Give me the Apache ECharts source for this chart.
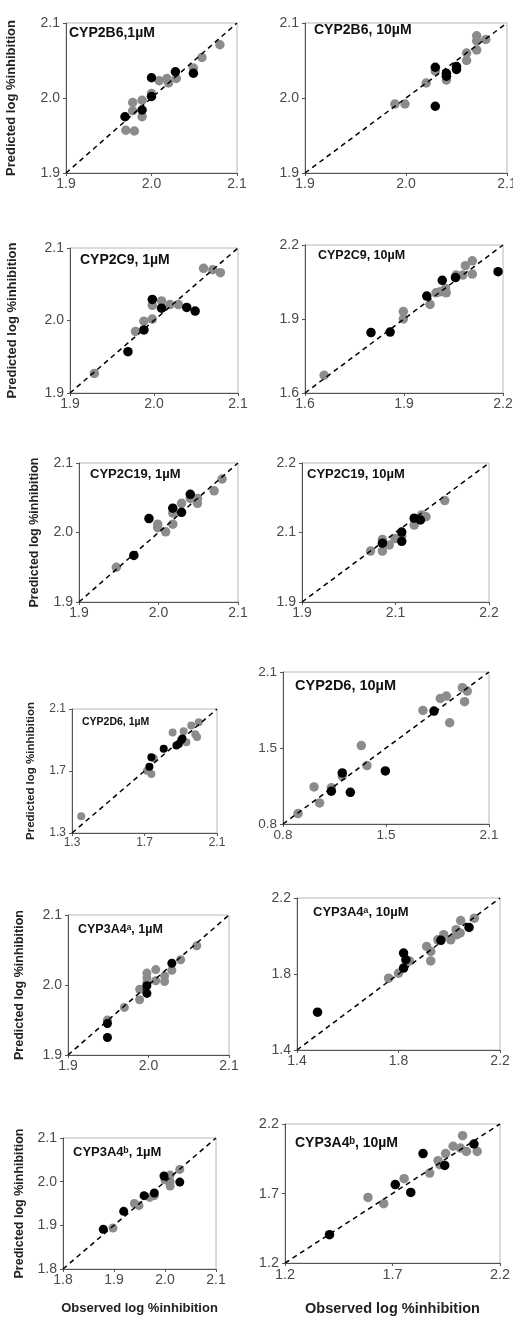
<!DOCTYPE html>
<html>
<head>
<meta charset="utf-8">
<script src="https://cdn.jsdelivr.net/npm/echarts@6/dist/echarts.min.js"></script>
<style>
  html, body { margin: 0; padding: 0; background: #fff; }
  #chart { width: 513px; height: 1317px; }
</style>
</head>
<body>
<div id="chart"></div>
<script>
  // tick values per panel (first/last = axis range); labels only where they differ from the value
  const p1Ticks = [1.9, 2.0, 2.1];
  const p2Ticks = [1.9, 2.0, 2.1];
  const p3Ticks = [1.9, 2.0, 2.1];
  const p4Ticks = [1.6, 1.9, 2.2];
  const p5Ticks = [1.9, 2.0, 2.1];
  const p6Ticks = [1.9, 2.05, 2.2];
  const p6Labels = ['1.9', '2.1', '2.2'];
  const p7Ticks = [1.3, 1.7, 2.1];
  const p8Ticks = [0.8, 1.45, 2.1];
  const p8Labels = ['0.8', '1.5', '2.1'];
  const p9Ticks = [1.9, 2.0, 2.1];
  const p10Ticks = [1.4, 1.8, 2.2];
  const p11Ticks = [1.8, 1.9, 2.0, 2.1];
  const p12Ticks = [1.2, 1.7, 2.2];

  // [observed, predicted]
  const p1Gray = [[1.97,1.957],[1.98,1.956],[1.978,1.994],[1.978,1.983],[1.989,1.997],[1.989,1.975],[2.0,2.006],[2.009,2.023],[2.018,2.026],[2.02,2.02],[2.029,2.026],[2.049,2.04],[2.059,2.054],[2.08,2.071]];
  const p1Black = [[1.969,1.975],[1.989,1.984],[2.0,2.027],[2.0,2.002],[2.028,2.035],[2.049,2.033]];
  const p2Gray = [[1.989,1.992],[1.999,1.992],[2.02,2.02],[2.029,2.036],[2.04,2.024],[2.04,2.029],[2.05,2.04],[2.06,2.05],[2.06,2.06],[2.07,2.064],[2.07,2.076],[2.07,2.083],[2.079,2.078]];
  const p2Black = [[2.029,2.041],[2.029,1.989],[2.04,2.033],[2.04,2.029],[2.05,2.042],[2.05,2.038]];
  const p3Gray = [[1.929,1.927],[1.978,1.985],[1.988,1.999],[1.998,2.002],[1.998,2.021],[2.009,2.027],[2.019,2.022],[2.029,2.022],[2.059,2.072],[2.07,2.07],[2.079,2.066]];
  const p3Black = [[1.969,1.957],[1.988,1.987],[1.998,2.029],[2.009,2.017],[2.039,2.018],[2.049,2.013]];
  const p4Gray = [[1.658,1.672],[1.898,1.93],[1.898,1.90],[1.979,1.959],[1.997,2.006],[2.009,2.01],[2.026,2.024],[2.028,2.006],[2.058,2.078],[2.078,2.078],[2.086,2.116],[2.107,2.136],[2.107,2.082]];
  const p4Black = [[1.80,1.845],[1.858,1.847],[1.969,1.993],[2.016,2.057],[2.056,2.068],[2.185,2.092]];
  const p5Gray = [[1.947,1.95],[1.999,2.012],[1.999,2.007],[2.009,2.001],[2.018,2.012],[2.018,2.028],[2.029,2.042],[2.04,2.049],[2.049,2.049],[2.049,2.042],[2.07,2.06],[2.08,2.077]];
  const p5Black = [[1.969,1.967],[1.988,2.02],[2.018,2.035],[2.029,2.029],[2.04,2.055]];
  const p6Gray = [[2.01,2.01],[2.029,2.035],[2.029,2.01],[2.04,2.023],[2.049,2.037],[2.06,2.042],[2.08,2.066],[2.092,2.088],[2.099,2.084],[2.129,2.119]];
  const p6Black = [[2.029,2.027],[2.06,2.051],[2.06,2.031],[2.08,2.081],[2.09,2.077]];
  const p7Gray = [[1.351,1.408],[1.714,1.702],[1.738,1.68],[1.751,1.783],[1.855,1.948],[1.916,1.957],[1.931,1.886],[1.958,1.994],[1.98,1.937],[1.99,1.92],[1.999,2.015]];
  const p7Black = [[1.727,1.728],[1.738,1.789],[1.806,1.843],[1.876,1.865],[1.889,1.875],[1.903,1.9],[1.909,1.91]];
  const p8Gray = [[0.895,0.889],[0.996,1.117],[1.031,0.98],[1.105,1.109],[1.174,1.209],[1.294,1.471],[1.33,1.3],[1.683,1.771],[1.793,1.874],[1.831,1.894],[1.852,1.666],[1.932,1.966],[1.963,1.937],[1.946,1.846]];
  const p8Black = [[1.105,1.08],[1.174,1.237],[1.225,1.071],[1.446,1.254],[1.753,1.766]];
  const p9Gray = [[1.949,1.95],[1.97,1.968],[1.989,1.994],[1.989,1.979],[1.998,2.003],[1.998,2.01],[1.998,2.017],[2.009,2.022],[2.009,2.006],[2.02,2.013],[2.02,2.005],[2.029,2.021],[2.04,2.036],[2.06,2.056]];
  const p9Black = [[1.949,1.945],[1.949,1.925],[1.998,1.999],[1.998,1.988],[2.029,2.031]];
  const p10Gray = [[1.761,1.778],[1.8,1.804],[1.843,1.869],[1.911,1.945],[1.927,1.869],[1.927,1.919],[1.955,1.98],[1.978,2.007],[2.006,1.98],[2.027,2.033],[2.03,2.007],[2.043,2.016],[2.045,2.081],[2.099,2.094]];
  const p10Black = [[1.481,1.599],[1.82,1.831],[1.82,1.91],[1.829,1.875],[1.967,1.977],[2.078,2.045]];
  const p11Gray = [[1.898,1.894],[1.94,1.95],[1.949,1.945],[1.97,1.964],[1.979,1.968],[2.0,2.004],[2.01,2.015],[2.01,2.0],[2.01,1.99],[2.029,2.028]];
  const p11Black = [[1.879,1.891],[1.919,1.932],[1.959,1.968],[1.979,1.974],[1.998,2.013],[2.029,1.999]];
  const p12Gray = [[1.586,1.672],[1.659,1.627],[1.754,1.807],[1.873,1.847],[1.912,1.936],[1.92,1.907],[1.947,1.987],[1.982,2.04],[2.016,2.027],[2.026,2.116],[2.044,2.003],[2.094,2.003]];
  const p12Black = [[1.407,1.404],[1.713,1.764],[1.785,1.708],[1.842,1.987],[1.943,1.902],[2.079,2.056]];

  const yTitle = 'Predicted log %inhibition';
  const xTitle = 'Observed log %inhibition';

  const panels = [
    { name: 'CYP2B6,1\u00b5M', ticks: p1Ticks, gray: p1Gray, black: p1Black },
    { name: 'CYP2B6, 10\u00b5M', ticks: p2Ticks, gray: p2Gray, black: p2Black },
    { name: 'CYP2C9, 1\u00b5M', ticks: p3Ticks, gray: p3Gray, black: p3Black },
    { name: 'CYP2C9, 10\u00b5M', ticks: p4Ticks, gray: p4Gray, black: p4Black },
    { name: 'CYP2C19, 1\u00b5M', ticks: p5Ticks, gray: p5Gray, black: p5Black },
    { name: 'CYP2C19, 10\u00b5M', ticks: p6Ticks, labels: p6Labels, gray: p6Gray, black: p6Black },
    { name: 'CYP2D6, 1\u00b5M', ticks: p7Ticks, gray: p7Gray, black: p7Black },
    { name: 'CYP2D6, 10\u00b5M', ticks: p8Ticks, labels: p8Labels, gray: p8Gray, black: p8Black },
    { name: 'CYP3A4\u1d43, 1\u00b5M', ticks: p9Ticks, gray: p9Gray, black: p9Black },
    { name: 'CYP3A4\u1d43, 10\u00b5M', ticks: p10Ticks, gray: p10Gray, black: p10Black },
    { name: 'CYP3A4\u1d47, 1\u00b5M', ticks: p11Ticks, gray: p11Gray, black: p11Black },
    { name: 'CYP3A4\u1d47, 10\u00b5M', ticks: p12Ticks, gray: p12Gray, black: p12Black }
  ];

  // box geometry, title spot and text sizes for each panel
  const layout = [
    { l: 66, t: 23, w: 171, h: 150, tl: 69, tt: 26, ts: 14, fs: 14, sym: 9.5, yGap: 48, yfs: 13 },
    { l: 305, t: 23, w: 202, h: 150, tl: 314, tt: 23, ts: 14, fs: 14, sym: 9.5 },
    { l: 70, t: 248, w: 168, h: 145, tl: 80, tt: 253, ts: 14, fs: 14, sym: 9.5, yGap: 51, yfs: 13 },
    { l: 305, t: 245, w: 198, h: 148, tl: 318, tt: 249, ts: 12.5, fs: 14, sym: 9.5 },
    { l: 79, t: 463, w: 159, h: 139, tl: 90, tt: 468, ts: 13, fs: 14, sym: 9.5, yGap: 38, yfs: 12.5 },
    { l: 302, t: 463, w: 187, h: 139, tl: 307, tt: 468, ts: 13, fs: 14, sym: 9.5 },
    { l: 72, t: 709, w: 145, h: 124, tl: 82, tt: 717, ts: 10.5, fs: 12, sym: 8, yGap: 35, yfs: 11.5 },
    { l: 283, t: 672, w: 206, h: 152, tl: 295, tt: 678, ts: 14.5, fs: 13.5, sym: 9.5 },
    { l: 68, t: 915, w: 161, h: 140, tl: 78, tt: 923, ts: 12.5, fs: 14, sym: 9, yGap: 42, yfs: 12.5 },
    { l: 297, t: 898, w: 203, h: 152, tl: 313, tt: 906, ts: 13, fs: 14, sym: 9.5 },
    { l: 63, t: 1138, w: 153, h: 131, tl: 73, tt: 1146, ts: 13, fs: 14, sym: 9, yGap: 37, yfs: 12.5, xGap: 33, xfs: 13 },
    { l: 285, t: 1124, w: 215, h: 139, tl: 295, tt: 1136, ts: 14, fs: 14.5, sym: 9.5, xGap: 38, xfs: 14.5 }
  ];

  const font = '"Liberation Sans", Arial, sans-serif';
  const axisColor = '#555';

  const makeAxis = (p, L, i, isX) => {
    const ticks = p.ticks;
    const ax = {
      type: 'value',
      gridIndex: i,
      min: ticks[0],
      max: ticks[ticks.length - 1],
      splitLine: { show: false },
      axisLine: { show: true, onZero: false, lineStyle: { color: axisColor, width: 1 } },
      axisTick: { show: true, length: 3, customValues: ticks, lineStyle: { color: axisColor } },
      axisLabel: {
        customValues: ticks,
        fontSize: L.fs,
        fontFamily: font,
        color: '#4a4a4a',
        margin: isX ? 4 : 6,
        formatter: (v) => {
          let k = 0;
          ticks.forEach((t, j) => { if (Math.abs(t - v) < Math.abs(ticks[k] - v)) k = j; });
          return p.labels ? p.labels[k] : ticks[k].toFixed(1);
        }
      }
    };
    const gap = isX ? L.xGap : L.yGap;
    if (gap) {
      ax.name = isX ? xTitle : yTitle;
      ax.nameLocation = 'middle';
      ax.nameGap = gap;
      ax.nameTextStyle = { fontSize: isX ? L.xfs : L.yfs, fontWeight: 'bold', color: '#222', fontFamily: font };
    }
    return ax;
  };

  const grid = [], xAxis = [], yAxis = [], series = [], title = [];
  panels.forEach((p, i) => {
    const L = layout[i];
    grid.push({
      left: L.l, top: L.t, width: L.w, height: L.h,
      show: true, borderColor: '#b8b8b8', borderWidth: 1,
      outerBoundsMode: 'none'
    });
    xAxis.push(makeAxis(p, L, i, true));
    yAxis.push(makeAxis(p, L, i, false));
    const lo = p.ticks[0], hi = p.ticks[p.ticks.length - 1];
    series.push({
      type: 'line', xAxisIndex: i, yAxisIndex: i,
      data: [[lo, lo], [hi, hi]],
      symbol: 'none', silent: true,
      lineStyle: { color: '#000', width: 1.5, type: [5, 4] }
    });
    series.push({
      type: 'scatter', xAxisIndex: i, yAxisIndex: i,
      data: p.gray, symbolSize: L.sym,
      itemStyle: { color: '#8c8c8c', opacity: 1 }
    });
    series.push({
      type: 'scatter', xAxisIndex: i, yAxisIndex: i,
      data: p.black, symbolSize: L.sym,
      itemStyle: { color: '#000', opacity: 1 }
    });
    title.push({
      text: p.name, left: L.tl, top: L.tt, padding: 0,
      textStyle: { fontSize: L.ts, fontWeight: 'bold', color: '#111', fontFamily: font }
    });
  });

  const myChart = echarts.init(document.getElementById('chart'), null, { renderer: 'canvas' });
  myChart.setOption({
    animation: false,
    backgroundColor: '#fff',
    title, grid, xAxis, yAxis, series
  });
</script>
</body>
</html>
